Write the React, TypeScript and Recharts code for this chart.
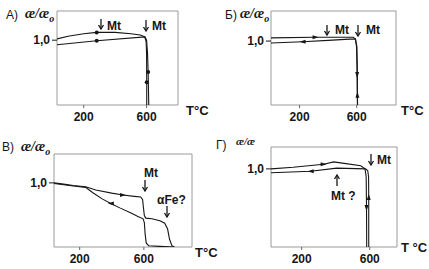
import React from "react";
import { LineChart, Line, XAxis, YAxis, ReferenceArea } from "recharts";

// t = температура, °C; k = æ/æo; m = значок на кривой (o точка, r/l/u/d стрелка)
type Pt = { t: number; k: number; m?: string };

const aHeat: Pt[] = [
  { t: 30, k: 1.02 }, { t: 100, k: 1.06 }, { t: 200, k: 1.1 }, { t: 283, k: 1.12, m: "o" },
  { t: 400, k: 1.12 }, { t: 500, k: 1.1 }, { t: 560, k: 1.08 }, { t: 590, k: 1.05 },
  { t: 600, k: 1.0 }, { t: 606, k: 0.8 }, { t: 610, k: 0.51, m: "o" }, { t: 612, k: 0.25 }, { t: 614, k: 0 },
];
const aCool: Pt[] = [
  { t: 601, k: 0 }, { t: 601, k: 0.35, m: "o" }, { t: 600, k: 0.8 }, { t: 597, k: 0.98 },
  { t: 588, k: 1.05 }, { t: 283, k: 0.99, m: "o" }, { t: 30, k: 0.93 },
];

const bHeat: Pt[] = [
  { t: 0, k: 1.05 }, { t: 312, k: 1.06, m: "r" }, { t: 500, k: 1.06 }, { t: 575, k: 1.06 },
  { t: 592, k: 1.03 }, { t: 599, k: 0.9 }, { t: 603, k: 0.47, m: "d" }, { t: 605, k: 0 },
];
const bCool: Pt[] = [
  { t: 606, k: 0 }, { t: 605, k: 0.16, m: "u" }, { t: 604, k: 0.6 }, { t: 601, k: 0.92 },
  { t: 590, k: 1.03 }, { t: 550, k: 1.03 }, { t: 400, k: 1.01 }, { t: 221, k: 0.99, m: "l" }, { t: 0, k: 0.97 },
];

const vHeat: Pt[] = [
  { t: 40, k: 1.0 }, { t: 100, k: 0.98 }, { t: 160, k: 0.96 }, { t: 237, k: 0.94 },
  { t: 300, k: 0.89 }, { t: 400, k: 0.84 }, { t: 470, k: 0.81, m: "r" }, { t: 540, k: 0.79 },
  { t: 580, k: 0.78 }, { t: 592, k: 0.74 }, { t: 598, k: 0.6 }, { t: 603, k: 0.49 },
  { t: 612, k: 0.45 }, { t: 650, k: 0.44 }, { t: 700, k: 0.41 }, { t: 730, k: 0.37 },
  { t: 748, k: 0.28 }, { t: 760, k: 0.12 }, { t: 775, k: 0.02 }, { t: 790, k: 0 },
];
const vCool: Pt[] = [
  { t: 790, k: 0 }, { t: 700, k: 0.01 }, { t: 630, k: 0.02 }, { t: 615, k: 0.06 },
  { t: 608, k: 0.2 }, { t: 603, k: 0.38 }, { t: 595, k: 0.44 }, { t: 560, k: 0.48 },
  { t: 520, k: 0.53 }, { t: 450, k: 0.61 }, { t: 394, k: 0.68, m: "l" }, { t: 340, k: 0.75 },
  { t: 280, k: 0.85 }, { t: 237, k: 0.93 }, { t: 160, k: 0.95 }, { t: 100, k: 0.97 }, { t: 40, k: 0.99 },
];

const gHeat: Pt[] = [
  { t: 20, k: 1.0 }, { t: 150, k: 1.02 }, { t: 329, k: 1.06, m: "r" }, { t: 388, k: 1.09 },
  { t: 450, k: 1.07 }, { t: 547, k: 1.04 }, { t: 572, k: 1.0 }, { t: 579, k: 0.9 },
  { t: 581, k: 0.5, m: "d" }, { t: 582, k: 0 },
];
const gCool: Pt[] = [
  { t: 594, k: 0 }, { t: 594, k: 0.64, m: "u" }, { t: 593, k: 0.9 }, { t: 588, k: 0.98 },
  { t: 575, k: 1.0 }, { t: 406, k: 1.01 }, { t: 253, k: 0.97, m: "l" }, { t: 20, k: 0.95 },
];

const xTicks = [200, 600];
const yTicks = [1];

const FONT = '"Liberation Sans", Arial, sans-serif';
const INK = "#161616";

function marker(p: any) {
  const { cx, cy, payload, index } = p;
  const m = payload && payload.m;
  const key = `m-${index}`;
  if (!m || cx == null || cy == null) return <g key={key} />;
  if (m === "o") return <circle key={key} cx={cx} cy={cy} r={2} fill={INK} />;
  const s = 3;
  let pts = "";
  if (m === "r") pts = `${cx + s},${cy} ${cx - s},${cy - 2} ${cx - s},${cy + 2}`;
  if (m === "l") pts = `${cx - s},${cy} ${cx + s},${cy - 2} ${cx + s},${cy + 2}`;
  if (m === "u") pts = `${cx},${cy - s} ${cx - 2},${cy + s} ${cx + 2},${cy + s}`;
  if (m === "d") pts = `${cx},${cy + s} ${cx - 2},${cy - s} ${cx + 2},${cy - s}`;
  return <polygon key={key} points={pts} fill={INK} />;
}

interface PanelProps {
  box: { l: number; t: number; r: number; b: number };
  xDomain: [number, number];
  yMax: number;
  heat: Pt[];
  cool: Pt[];
}

function Panel({ box, xDomain, yMax, heat, cool }: PanelProps) {
  const h = 20;
  const w = 40;
  const tickStyle = { fontSize: 12, fontWeight: 700, fill: INK, fontFamily: FONT };
  return (
    <div style={{ position: "absolute", left: 0, top: 0 }}>
      <LineChart
        width={429}
        height={269}
        margin={{ left: box.l - w, top: box.t, right: 429 - box.r, bottom: 269 - box.b - h }}
      >
        <XAxis
          type="number"
          dataKey="t"
          domain={xDomain}
          ticks={xTicks}
          allowDataOverflow
          axisLine={false}
          tickSize={3}
          tickMargin={4}
          tickLine={{ stroke: "#666" }}
          tick={tickStyle}
          height={h}
        />
        <YAxis
          type="number"
          dataKey="k"
          domain={[0, yMax]}
          ticks={yTicks}
          allowDataOverflow
          tickFormatter={() => "1,0"}
          axisLine={false}
          tickSize={5}
          tickMargin={2}
          tickLine={{ stroke: INK }}
          tick={tickStyle}
          width={w}
        />
        <ReferenceArea x1={xDomain[0]} x2={xDomain[1]} y1={0} y2={yMax} fill="none" stroke="#9a9a9a" strokeWidth={1} />
        <Line data={heat} dataKey="k" type="linear" stroke={INK} strokeWidth={1.1} dot={marker} activeDot={false} isAnimationActive={false} />
        <Line data={cool} dataKey="k" type="linear" stroke={INK} strokeWidth={1.1} dot={marker} activeDot={false} isAnimationActive={false} />
      </LineChart>
    </div>
  );
}

function Kappa({ x, y, sub = true, size = 14 }: { x: number; y: number; sub?: boolean; size?: number }) {
  return (
    <text x={x} y={y} fontFamily='"Liberation Serif", serif' fontStyle="italic" fontWeight={700} fontSize={size} fill={INK}>
      æ/æ
      {sub && (
        <tspan dy={4} fontSize={size - 4}>
          o
        </tspan>
      )}
    </text>
  );
}

// стрелка-указатель: вертикальная линия с наконечником
function Pointer({ x, y1, y2 }: { x: number; y1: number; y2: number }) {
  const d = y2 > y1 ? 1 : -1;
  return (
    <g stroke={INK} strokeWidth={1.3} fill="none">
      <line x1={x} y1={y1} x2={x} y2={y2} />
      <polyline points={`${x - 2.5},${y2 - 4 * d} ${x},${y2} ${x + 2.5},${y2 - 4 * d}`} />
    </g>
  );
}

export default function App() {
  const lab = { fontFamily: FONT, fill: INK };
  const bold = { ...lab, fontWeight: 700, fontSize: 12 };
  return (
    <div style={{ position: "absolute", left: 0, top: 0, width: 429, height: 269, background: "#fff", overflow: "hidden" }}>
      <Panel box={{ l: 57, t: 11, r: 178, b: 105 }} xDomain={[30, 800]} yMax={1.45} heat={aHeat} cool={aCool} />
      <Panel box={{ l: 271, t: 11, r: 396, b: 105 }} xDomain={[0, 875]} yMax={1.47} heat={bHeat} cool={bCool} />
      <Panel box={{ l: 54, t: 154, r: 192, b: 247 }} xDomain={[40, 900]} yMax={1.45} heat={vHeat} cool={vCool} />
      <Panel box={{ l: 271, t: 147, r: 397, b: 247 }} xDomain={[20, 760]} yMax={1.28} heat={gHeat} cool={gCool} />
      <svg width={429} height={269} style={{ position: "absolute", left: 0, top: 0, pointerEvents: "none" }}>
        {/* А */}
        <text x={6} y={19} fontSize={12} {...lab}>А)</text>
        <Kappa x={25} y={18} />
        <Pointer x={101} y1={19} y2={29} />
        <text x={107} y={30} {...bold}>Mt</text>
        <Pointer x={146} y1={20} y2={31} />
        <text x={152} y={30} {...bold}>Mt</text>
        <text x={186} y={115} {...bold} fontSize={13}>T°C</text>
        {/* Б */}
        <text x={225} y={19} fontSize={12} {...lab}>Б)</text>
        <Kappa x={240} y={18} />
        <Pointer x={327} y1={25} y2={35} />
        <text x={335} y={34} {...bold}>Mt</text>
        <Pointer x={358} y1={25} y2={36} />
        <text x={366} y={34} {...bold}>Mt</text>
        <text x={401} y={115} {...bold} fontSize={13}>T°C</text>
        {/* В */}
        <text x={2} y={151} fontSize={12} {...lab}>В)</text>
        <Kappa x={21} y={151} />
        <text x={144} y={177} {...bold}>Mt</text>
        <Pointer x={145} y1={180} y2={191} />
        <text x={157} y={204} {...bold}>αFe?</text>
        <Pointer x={167} y1={206} y2={217} />
        <text x={195} y={257} {...bold} fontSize={13}>T°C</text>
        {/* Г */}
        <text x={216} y={149} fontSize={12} {...lab}>Г)</text>
        <Kappa x={236} y={145} sub={false} size={11} />
        <Pointer x={371} y1={154} y2={165} />
        <text x={377} y={164} {...bold}>Mt</text>
        <Pointer x={337} y1={186} y2={175} />
        <text x={331} y={200} {...bold}>Mt ?</text>
        <text x={401} y={252} {...bold} fontSize={13}>T °C</text>
      </svg>
    </div>
  );
}
